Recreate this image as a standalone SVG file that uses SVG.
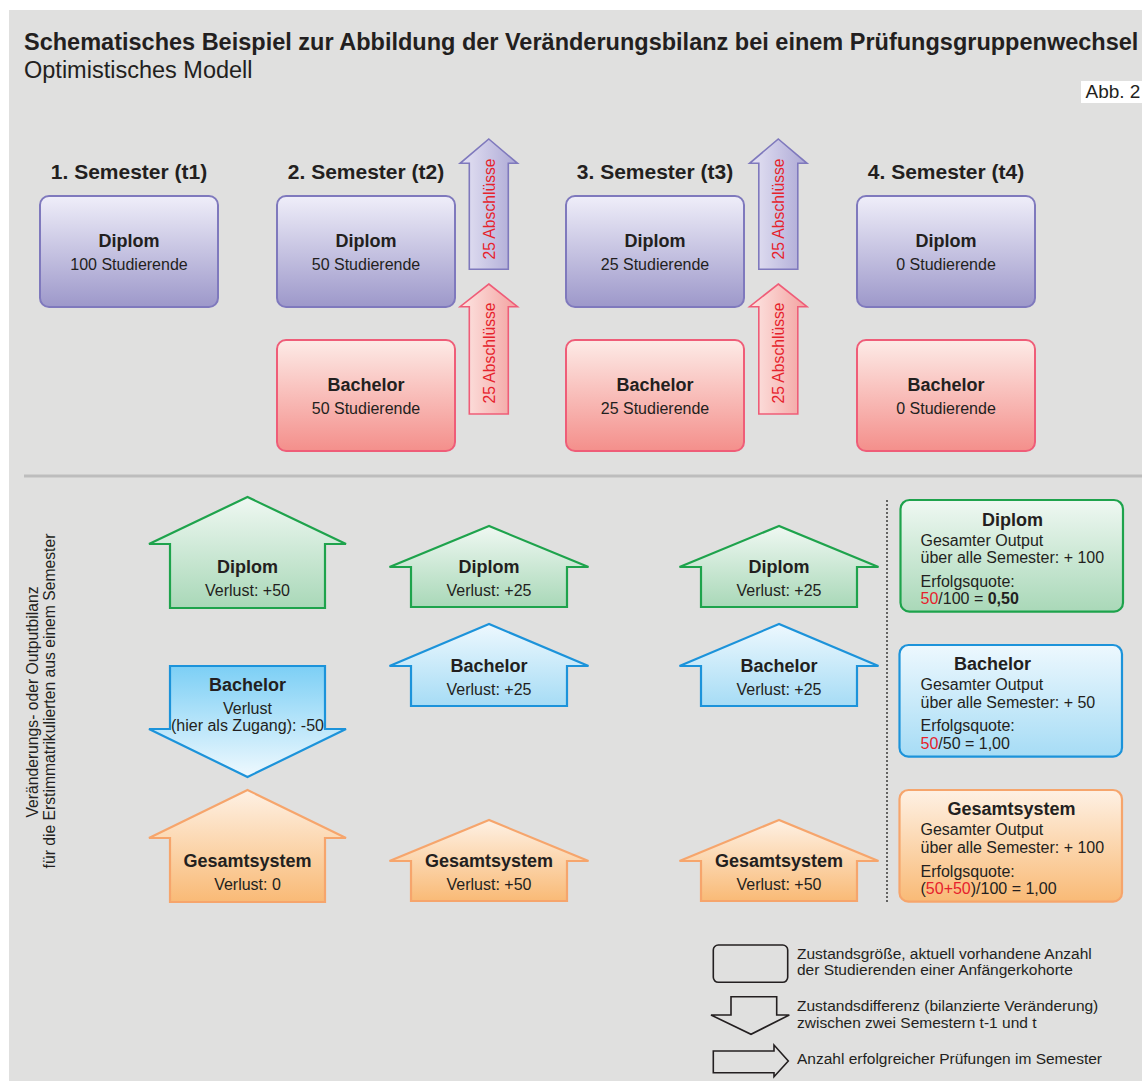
<svg xmlns="http://www.w3.org/2000/svg" width="1142" height="1081" viewBox="0 0 1142 1081">
<defs>
  <linearGradient id="gPurple" x1="0" y1="0" x2="0" y2="1">
    <stop offset="0" stop-color="#efeef9"/>
    <stop offset="1" stop-color="#9d98ca"/>
  </linearGradient>
  <linearGradient id="gRed" x1="0" y1="0" x2="0" y2="1">
    <stop offset="0" stop-color="#fdebe7"/>
    <stop offset="1" stop-color="#f48f8b"/>
  </linearGradient>
  <linearGradient id="gPurpleH" x1="0" y1="0" x2="1" y2="0">
    <stop offset="0" stop-color="#e6e4f4"/>
    <stop offset="1" stop-color="#aca8d5"/>
  </linearGradient>
  <linearGradient id="gRedH" x1="0" y1="0" x2="1" y2="0">
    <stop offset="0" stop-color="#fde6e3"/>
    <stop offset="1" stop-color="#f3a2a0"/>
  </linearGradient>
  <linearGradient id="gGreen" x1="0" y1="0" x2="0" y2="1">
    <stop offset="0" stop-color="#eff8f2"/>
    <stop offset="1" stop-color="#a9d8b8"/>
  </linearGradient>
  <linearGradient id="gBlueUp" x1="0" y1="0" x2="0" y2="1">
    <stop offset="0" stop-color="#edf8fe"/>
    <stop offset="1" stop-color="#a6dcf5"/>
  </linearGradient>
  <linearGradient id="gBlueDown" x1="0" y1="0" x2="0" y2="1">
    <stop offset="0" stop-color="#7ccff5"/>
    <stop offset="1" stop-color="#eff9fe"/>
  </linearGradient>
  <linearGradient id="gOrange" x1="0" y1="0" x2="0" y2="1">
    <stop offset="0" stop-color="#fef1e4"/>
    <stop offset="1" stop-color="#f9ba76"/>
  </linearGradient>
  <polygon id="upArrowTop" points="0,0 28.7,24.3 19.5,24.3 19.5,130.3 -19.5,130.3 -19.5,24.3 -28.7,24.3"/>
</defs>
<style>
  text { font-family: "Liberation Sans", Arial, Helvetica, sans-serif; fill: #231f20; }
  .t { font-size: 16px; }
  .c { text-anchor: middle; }
  .b { font-weight: bold; font-size: 18px; }
  .hdr { font-weight: bold; font-size: 21px; text-anchor: middle; }
  .vt { font-size: 15.7px; fill: #e6222c; text-anchor: middle; }
  .red { fill: #e6222c; }
  .lg { font-size: 15.5px; }
  .side { font-size: 15.7px; text-anchor: middle; }
  .purple { fill: url(#gPurple); stroke: #7f79bd; stroke-width: 2; }
  .pink { fill: url(#gRed); stroke: #ef5d78; stroke-width: 2; }
  .purpleA { fill: url(#gPurpleH); stroke: #7f79bd; stroke-width: 1.6; }
  .pinkA { fill: url(#gRedH); stroke: #ef5d78; stroke-width: 1.6; }
  .green { fill: url(#gGreen); stroke: #1ea34c; stroke-width: 2.2; }
  .blueU { fill: url(#gBlueUp); stroke: #1c93da; stroke-width: 2.2; }
  .blueD { fill: url(#gBlueDown); stroke: #1c93da; stroke-width: 2.2; }
  .orange { fill: url(#gOrange); stroke: #f6a56c; stroke-width: 2.2; }
  .legend { fill: none; stroke: #231f20; stroke-width: 1.6; }
</style>

<rect x="0" y="0" width="1142" height="1081" fill="#ffffff"/>
<rect x="9" y="10" width="1133" height="1071" fill="#e0e0df"/>

<g id="title">
  <text x="24" y="50" style="font-weight:bold;font-size:23.5px">Schematisches Beispiel zur Abbildung der Veränderungsbilanz bei einem Prüfungsgruppenwechsel</text>
  <text x="24" y="78" style="font-size:23.5px">Optimistisches Modell</text>
</g>
<g id="abb">
  <rect x="1081" y="81" width="61" height="22" fill="#ffffff"/>
  <text x="1085.5" y="98" style="font-size:19px">Abb. 2</text>
</g>

<g id="headers">
  <text class="hdr" x="129" y="179">1. Semester (t1)</text>
  <text class="hdr" x="366" y="179">2. Semester (t2)</text>
  <text class="hdr" x="655" y="179">3. Semester (t3)</text>
  <text class="hdr" x="946" y="179">4. Semester (t4)</text>
</g>

<g id="diplom-t1">
  <rect class="purple" x="40" y="196" width="178" height="111" rx="9"/>
  <text class="b c" x="129" y="247">Diplom</text>
  <text class="t c" x="129" y="270">100 Studierende</text>
</g>
<g id="diplom-t2">
  <rect class="purple" x="277" y="196" width="178" height="111" rx="9"/>
  <text class="b c" x="366" y="247">Diplom</text>
  <text class="t c" x="366" y="270">50 Studierende</text>
</g>
<g id="bachelor-t2">
  <rect class="pink" x="277" y="340" width="178" height="111" rx="9"/>
  <text class="b c" x="366" y="391">Bachelor</text>
  <text class="t c" x="366" y="414">50 Studierende</text>
</g>
<g id="diplom-t3">
  <rect class="purple" x="566" y="196" width="178" height="111" rx="9"/>
  <text class="b c" x="655" y="247">Diplom</text>
  <text class="t c" x="655" y="270">25 Studierende</text>
</g>
<g id="bachelor-t3">
  <rect class="pink" x="566" y="340" width="178" height="111" rx="9"/>
  <text class="b c" x="655" y="391">Bachelor</text>
  <text class="t c" x="655" y="414">25 Studierende</text>
</g>
<g id="diplom-t4">
  <rect class="purple" x="857" y="196" width="178" height="111" rx="9"/>
  <text class="b c" x="946" y="247">Diplom</text>
  <text class="t c" x="946" y="270">0 Studierende</text>
</g>
<g id="bachelor-t4">
  <rect class="pink" x="857" y="340" width="178" height="111" rx="9"/>
  <text class="b c" x="946" y="391">Bachelor</text>
  <text class="t c" x="946" y="414">0 Studierende</text>
</g>

<g id="connectors">
  <g id="abschluss-diplom-t2">
    <use href="#upArrowTop" class="purpleA" transform="translate(488.8,139)"/>
    <text class="vt" transform="translate(494.5,209) rotate(-90)">25 Abschlüsse</text>
  </g>
  <g id="abschluss-bachelor-t2">
    <path class="pinkA" d="M488.8,284 L517.5,306.7 L508.3,306.7 L508.3,414 L469.3,414 L469.3,306.7 L460.1,306.7 Z"/>
    <text class="vt" transform="translate(494.5,353) rotate(-90)">25 Abschlüsse</text>
  </g>
  <g id="abschluss-diplom-t3">
    <use href="#upArrowTop" class="purpleA" transform="translate(778.3,139)"/>
    <text class="vt" transform="translate(784,209) rotate(-90)">25 Abschlüsse</text>
  </g>
  <g id="abschluss-bachelor-t3">
    <path class="pinkA" d="M778.3,284 L807,306.7 L797.8,306.7 L797.8,414 L758.8,414 L758.8,306.7 L749.6,306.7 Z"/>
    <text class="vt" transform="translate(784,353) rotate(-90)">25 Abschlüsse</text>
  </g>
</g>

<line x1="24" y1="476" x2="1142" y2="476" stroke="#bdbdbd" stroke-width="3"/>

<g id="side-label">
  <text class="side" transform="translate(37.5,702) rotate(-90)">Veränderungs- oder Outputbilanz</text>
  <text class="side" transform="translate(54.5,701) rotate(-90)">für die Erstimmatrikulierten aus einem Semester</text>
</g>

<g id="bilanz-t2-diplom">
  <polygon class="green" points="247.5,497 149,544 170,544 170,608 325,608 325,544 346,544"/>
  <text class="b c" x="247.5" y="573">Diplom</text>
  <text class="t c" x="247.5" y="596">Verlust: +50</text>
</g>
<g id="bilanz-t2-bachelor">
  <polygon class="blueD" points="170,666 325,666 325,729 346,729 247.5,777 149,729 170,729"/>
  <text class="b c" x="247.5" y="691">Bachelor</text>
  <text class="t c" x="247.5" y="714">Verlust</text>
  <text class="t c" x="247.5" y="731">(hier als Zugang): -50</text>
</g>
<g id="bilanz-t2-gesamt">
  <polygon class="orange" points="247.5,790 149,838 170,838 170,902 325,902 325,838 346,838"/>
  <text class="b c" x="247.5" y="867">Gesamtsystem</text>
  <text class="t c" x="247.5" y="890">Verlust: 0</text>
</g>

<g id="bilanz-t3-diplom">
  <polygon class="green" points="489,526 389.5,567 411,567 411,607 567,607 567,567 588.5,567"/>
  <text class="b c" x="489" y="573">Diplom</text>
  <text class="t c" x="489" y="596">Verlust: +25</text>
</g>
<g id="bilanz-t3-bachelor">
  <polygon class="blueU" points="489,624 389.5,666 411,666 411,706 567,706 567,666 588.5,666"/>
  <text class="b c" x="489" y="672">Bachelor</text>
  <text class="t c" x="489" y="695">Verlust: +25</text>
</g>
<g id="bilanz-t3-gesamt">
  <polygon class="orange" points="489,820 389.5,861 411,861 411,901 567,901 567,861 588.5,861"/>
  <text class="b c" x="489" y="867">Gesamtsystem</text>
  <text class="t c" x="489" y="890">Verlust: +50</text>
</g>

<g id="bilanz-t4-diplom">
  <polygon class="green" points="779,526 679.5,567 701,567 701,607 857,607 857,567 878.5,567"/>
  <text class="b c" x="779" y="573">Diplom</text>
  <text class="t c" x="779" y="596">Verlust: +25</text>
</g>
<g id="bilanz-t4-bachelor">
  <polygon class="blueU" points="779,624 679.5,666 701,666 701,706 857,706 857,666 878.5,666"/>
  <text class="b c" x="779" y="672">Bachelor</text>
  <text class="t c" x="779" y="695">Verlust: +25</text>
</g>
<g id="bilanz-t4-gesamt">
  <polygon class="orange" points="779,820 679.5,861 701,861 701,901 857,901 857,861 878.5,861"/>
  <text class="b c" x="779" y="867">Gesamtsystem</text>
  <text class="t c" x="779" y="890">Verlust: +50</text>
</g>

<line x1="887" y1="500" x2="887" y2="902" stroke="#3a3a3a" stroke-width="1.5" stroke-dasharray="2 2"/>

<g id="summe-diplom">
  <rect class="green" x="900.5" y="500" width="222.5" height="111.7" rx="9"/>
  <text class="b c" x="1012.5" y="526">Diplom</text>
  <text class="t" x="920.5" y="546">Gesamter Output</text>
  <text class="t" x="920.5" y="563">über alle Semester: + 100</text>
  <text class="t" x="920.5" y="587">Erfolgsquote:</text>
  <text class="t" x="920.5" y="603.5"><tspan class="red">50</tspan>/100 = <tspan font-weight="bold">0,50</tspan></text>
</g>
<g id="summe-bachelor">
  <rect class="blueU" x="899.5" y="645" width="222.5" height="111.7" rx="9"/>
  <text class="b c" x="992.5" y="670">Bachelor</text>
  <text class="t" x="920.5" y="690">Gesamter Output</text>
  <text class="t" x="920.5" y="707.5">über alle Semester: + 50</text>
  <text class="t" x="920.5" y="731">Erfolgsquote:</text>
  <text class="t" x="920.5" y="748.5"><tspan class="red">50</tspan>/50 = 1,00</text>
</g>
<g id="summe-gesamt">
  <rect class="orange" x="899.5" y="790" width="222.5" height="111.7" rx="9"/>
  <text class="b c" x="1011.5" y="815">Gesamtsystem</text>
  <text class="t" x="920.5" y="835">Gesamter Output</text>
  <text class="t" x="920.5" y="853">über alle Semester: + 100</text>
  <text class="t" x="920.5" y="877">Erfolgsquote:</text>
  <text class="t" x="920.5" y="893.5">(<tspan class="red">50+50</tspan>)/100 = 1,00</text>
</g>

<g id="legend">
  <rect class="legend" x="713.3" y="945" width="74.4" height="37.3" rx="5"/>
  <text class="lg" x="797" y="958.5">Zustandsgröße, aktuell vorhandene Anzahl</text>
  <text class="lg" x="797" y="974.5">der Studierenden einer Anfängerkohorte</text>
  <polygon class="legend" points="731,996.7 776.7,996.7 776.7,1015 789.3,1015 751,1034.3 711,1015 731,1015"/>
  <text class="lg" x="797" y="1011">Zustandsdifferenz (bilanzierte Veränderung)</text>
  <text class="lg" x="797" y="1027.5">zwischen zwei Semestern t-1 und t</text>
  <polygon class="legend" points="713.3,1051 774,1051 774,1045 788.3,1061 774,1076.7 774,1072.7 713.3,1072.7"/>
  <text class="lg" x="797" y="1063.5">Anzahl erfolgreicher Prüfungen im Semester</text>
</g>
</svg>
